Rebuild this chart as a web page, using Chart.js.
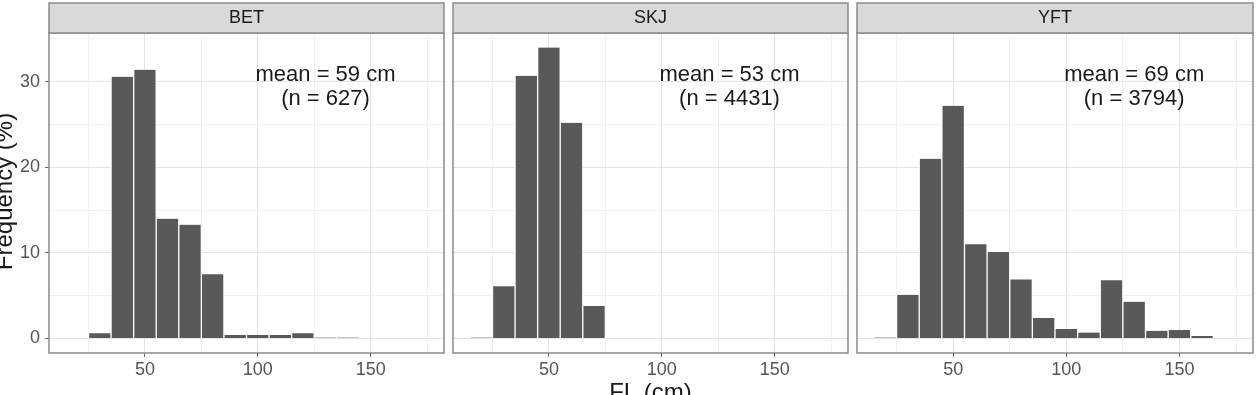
<!DOCTYPE html>
<html>
<head>
<meta charset="utf-8">
<script src="https://cdn.jsdelivr.net/npm/chart.js@4.4.1/dist/chart.umd.min.js"></script>
<style>
html,body{margin:0;padding:0;background:#fff;overflow:hidden}
#wrap{position:relative;width:1257px;height:395px;overflow:hidden;background:#fff}
canvas{position:absolute;top:0}
</style>
</head>
<body>
<div id="wrap">
  <canvas id="bet"></canvas>
  <canvas id="skj"></canvas>
  <canvas id="yft"></canvas>
</div>
<script>
// length bins (cm, bin mid points) and frequency (%) per species
const betMids = [30, 40, 50, 60, 70, 80, 90, 100, 110, 120, 130, 140];
const betFreq = [0.6, 30.6, 31.4, 14.0, 13.3, 7.5, 0.4, 0.4, 0.4, 0.6, 0.1, 0.1];

const skjMids = [20, 30, 40, 50, 60, 70];
const skjFreq = [0.1, 6.1, 30.7, 34.0, 25.2, 3.8];

const yftMids = [20, 30, 40, 50, 60, 70, 80, 90, 100, 110, 120, 130, 140, 150, 160, 170];
const yftFreq = [0.1, 5.1, 21.0, 27.2, 11.0, 10.1, 6.9, 2.4, 1.1, 0.7, 6.8, 4.3, 0.9, 1.0, 0.3, 0.05];

const species = ['BET', 'SKJ', 'YFT'];
const notes = [
  ['mean = 59 cm', '(n = 627)'],
  ['mean = 53 cm', '(n = 4431)'],
  ['mean = 69 cm', '(n = 3794)']
];

const xGrid = [25, 50, 75, 100, 125, 150, 175];
const xLabelled = [50, 100, 150];
const yGrid = [0, 5, 10, 15, 20, 25, 30, 35];
const yLabelled = [0, 10, 20, 30];

const xTitle = 'FL (cm)';
const yTitle = 'Frequency (%)';

const FONT = '"Liberation Sans", Arial, Helvetica, sans-serif';
const AXIS_W = 49;
const NOTE_X = 130, NOTE_Y = [30.8, 27.95];

const facetPlugin = {
  id: 'facet',
  afterDatasetsDraw(chart, args, o){
    const {ctx, scales:{x, y}} = chart;
    ctx.save();
    ctx.fillStyle = '#1a1a1a';
    ctx.font = '22px ' + FONT;
    ctx.textAlign = 'center';
    ctx.textBaseline = 'middle';
    o.note.forEach((t, i) => ctx.fillText(t, x.getPixelForValue(NOTE_X), y.getPixelForValue(NOTE_Y[i])));
    ctx.restore();
  },
  afterDraw(chart, args, o){
    const {ctx, chartArea:a} = chart;
    ctx.save();
    ctx.strokeStyle = '#8a8a8a';
    ctx.lineWidth = 1.5;
    ctx.strokeRect(a.left, a.top, a.right - a.left, a.bottom - a.top);
    // strip
    ctx.fillStyle = '#d9d9d9';
    ctx.fillRect(a.left, 3, a.right - a.left, a.top - 3);
    ctx.strokeRect(a.left, 3, a.right - a.left, a.top - 3);
    ctx.fillStyle = '#1a1a1a';
    ctx.font = '18px ' + FONT;
    ctx.textAlign = 'center';
    ctx.textBaseline = 'middle';
    ctx.fillText(o.title, (a.left + a.right) / 2, 18.5);
    if(o.yTitle){
      ctx.save();
      ctx.font = '24px ' + FONT;
      ctx.translate(12, 191.5);
      ctx.rotate(-Math.PI / 2);
      ctx.textBaseline = 'alphabetic';
      ctx.fillText(o.yTitle, 0, 0);
      ctx.restore();
    }
    if(o.xTitle){
      ctx.font = '24px ' + FONT;
      ctx.textBaseline = 'alphabetic';
      ctx.fillText(o.xTitle, (a.left + a.right) / 2, 400);
    }
    ctx.restore();
  }
};

function panel(id, left, width, mids, freq, idx, showY){
  const cv = document.getElementById(id);
  cv.width = AXIS_W + width + 3;
  cv.height = 395;
  cv.style.left = (left - AXIS_W) + 'px';
  const tickCol = (list, on) => c => (on && c.tick && list.includes(c.tick.value)) ? '#666' : 'rgba(0,0,0,0)';
  const gridCol = list => c => (c.tick && list.includes(c.tick.value)) ? '#e4e4e4' : '#f1f1f1';
  return new Chart(cv, {
    type: 'bar',
    data: {
      datasets: [{
        data: mids.map((x, i) => ({x, y: freq[i]})),
        backgroundColor: '#595959',
        borderColor: '#ffffff',
        borderWidth: {left: 1, right: 1, top: 0, bottom: 0},
        borderSkipped: false,
        barPercentage: 1,
        categoryPercentage: 1
      }]
    },
    options: {
      responsive: false,
      animation: false,
      layout: {padding: {top: 33, right: 3, left: 0, bottom: 0}},
      plugins: {
        legend: {display: false},
        tooltip: {enabled: false},
        facet: {title: species[idx], note: notes[idx], yTitle: showY ? yTitle : null, xTitle: idx === 1 ? xTitle : null}
      },
      scales: {
        x: {
          type: 'linear', min: 7.5, max: 182.5, offset: false,
          afterBuildTicks: s => { s.ticks = xGrid.map(v => ({value: v})); },
          afterFit: s => { s.height = 42; },
          grid: {offset: false, color: gridCol(xLabelled), lineWidth: 1, tickLength: 4, tickColor: tickCol(xLabelled, true)},
          border: {display: false},
          ticks: {autoSkip: false, maxRotation: 0, padding: 2, color: '#555', font: {family: FONT, size: 18},
                  callback: v => xLabelled.includes(v) ? String(v) : ''}
        },
        y: {
          min: -1.7, max: 35.7,
          afterBuildTicks: s => { s.ticks = yGrid.map(v => ({value: v})); },
          afterFit: s => { s.width = AXIS_W; },
          grid: {color: gridCol(yLabelled), lineWidth: 1, tickLength: 4, tickColor: tickCol(yLabelled, showY)},
          border: {display: false},
          ticks: {display: showY, autoSkip: false, padding: 5, color: '#555', font: {family: FONT, size: 18},
                  callback: v => yLabelled.includes(v) ? String(v) : ''}
        }
      }
    },
    plugins: [facetPlugin]
  });
}

panel('bet', 49, 395, betMids, betFreq, 0, true);
panel('skj', 453, 395, skjMids, skjFreq, 1, false);
panel('yft', 857, 396, yftMids, yftFreq, 2, false);
</script>
</body>
</html>
